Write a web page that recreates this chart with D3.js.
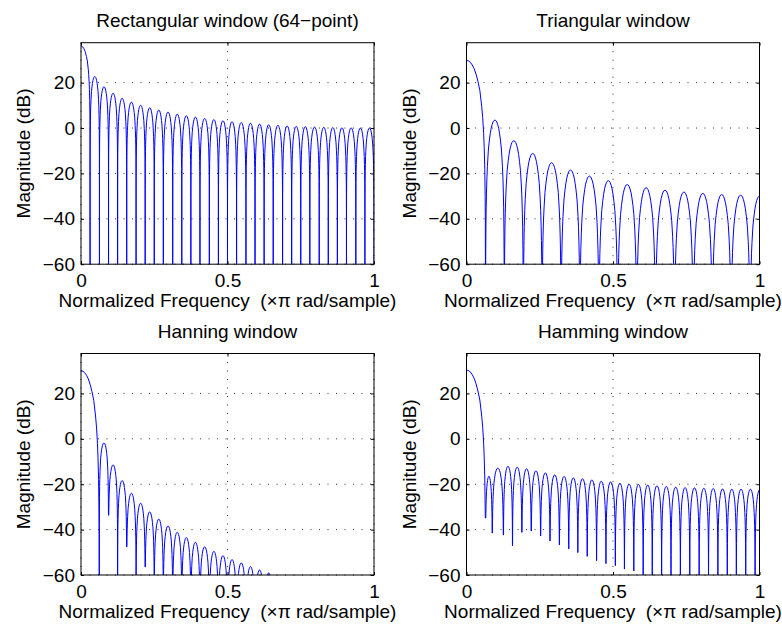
<!DOCTYPE html>
<html>
<head>
<meta charset="utf-8">
<script src="https://cdn.jsdelivr.net/npm/d3@7/dist/d3.min.js"></script>
<style>
  body { margin: 0; background: #fff; }
  svg text { font-family: 'Liberation Sans', Arial, Helvetica, sans-serif; font-size: 19px; fill: #000; }
</style>
</head>
<body>
<div class="canvas"></div>
<script>
const WIDTH = 782;
const HEIGHT = 624;

// axis ticks
const xTicks = [0, 0.5, 1];
const yTicks = [-60, -40, -20, 0, 20];
const yTop = 37.6;

// lobe data: null frequencies (x pi rad/sample),
// peak of each lobe (dB, first = main lobe), depth at each null (null = below -60)
const rectNulls = [0.031, 0.063, 0.094, 0.125, 0.156, 0.188, 0.219, 0.25, 0.281, 0.313, 0.344, 0.375, 0.406, 0.438, 0.469, 0.5,
  0.531, 0.563, 0.594, 0.625, 0.656, 0.688, 0.719, 0.75, 0.781, 0.813, 0.844, 0.875, 0.906, 0.938, 0.969, 1.0];
const rectPeaks = [36.1, 22.7, 18.2, 15.3, 13.1, 11.4, 10.0, 8.9, 7.9, 7.0, 6.1, 5.4, 4.8, 4.2, 3.7, 3.2,
  2.8, 2.4, 2.1, 1.7, 1.4, 1.2, 0.9, 0.7, 0.6, 0.4, 0.3, 0.2, 0.1, 0.05, 0.0, 0.0];
const rectDepths = [];

const triNulls = [0.065, 0.129, 0.194, 0.258, 0.323, 0.387, 0.452, 0.516, 0.581, 0.645, 0.71, 0.774, 0.839, 0.903, 0.968, 1.032];
const triPeaks = [29.8, 3.5, -5.6, -11.2, -15.3, -18.5, -21.2, -23.2, -24.9, -26.3, -27.4, -28.2, -28.8, -29.3, -29.6, -30.0];
const triDepths = [];

const hannNulls = [0.0625, 0.094, 0.125, 0.156, 0.188, 0.219, 0.25, 0.281, 0.313, 0.344, 0.375, 0.406, 0.438, 0.469, 0.5,
  0.531, 0.563, 0.594, 0.625, 0.656, 0.688, 0.719];
const hannPeaks = [30.0, -1.8, -11.5, -18.4, -24.0, -28.4, -32.2, -35.4, -38.4, -41.2, -43.5, -45.6, -47.6, -49.6, -51.5,
  -53.2, -54.7, -56.3, -57.8, -59.1, -60.4, -61.6];
const hannDepths = [null, -33.7, null, -47.6, null, -56.5];

const hammNulls = [0.065, 0.088, 0.126, 0.157, 0.189, 0.221, 0.253, 0.285, 0.317, 0.349, 0.38, 0.412, 0.444, 0.476, 0.508,
  0.539, 0.571, 0.603, 0.634, 0.666, 0.698, 0.73, 0.762, 0.794, 0.826, 0.858, 0.89, 0.921, 0.953, 0.985, 1.017];
const hammPeaks = [30.3, -16.5, -12.9, -12.1, -12.5, -13.2, -14.1, -15.0, -15.9, -16.6, -17.2, -17.6, -18.1, -18.7, -19.0,
  -19.6, -20.0, -20.1, -20.4, -20.7, -21.0, -21.3, -21.5, -21.6, -21.8, -21.9, -22.1, -22.2, -22.2, -22.2, -22.4];
const hammDepths = [-34.9, -41.5, -42.4, -47.1, -41.2, -40.6, -42.8, -45.0, -46.8, -48.5, -50.1, -51.8, -53.7, -55.0, -55.9,
  -57.4, -58.2];

// shape of one lobe from its null (t = 0) to its peak (t = 0.5), dB below the peak
const lobeT = [0, 0.005, 0.01, 0.02, 0.035, 0.05, 0.075, 0.1, 0.15, 0.2, 0.25, 0.3, 0.35, 0.4, 0.45, 0.5];
const lobeDrop = [-200, -36, -30, -24, -19.2, -16.1, -12.6, -10.2, -6.6, -4.6, -3.0, -1.8, -1.0, -0.4, -0.1, 0];

const xLabel = 'Normalized Frequency  (\u00d7\u03c0 rad/sample)';
const yLabel = 'Magnitude (dB)';

// layout
const plotW = 293;
const plotH = 221.5;
const panels = [
  { title: 'Rectangular window (64\u2212point)', nulls: rectNulls, peaks: rectPeaks, depths: rectDepths, mainSteep: 1, sideSteep: 1, left: 81, top: 42.7 },
  { title: 'Triangular window', nulls: triNulls, peaks: triPeaks, depths: triDepths, mainSteep: 2, sideSteep: 2, left: 466.5, top: 42.7 },
  { title: 'Hanning window', nulls: hannNulls, peaks: hannPeaks, depths: hannDepths, mainSteep: 2, sideSteep: 1, left: 81, top: 353.5 },
  { title: 'Hamming window', nulls: hammNulls, peaks: hammPeaks, depths: hammDepths, mainSteep: 2, sideSteep: 1, left: 466.5, top: 353.5 }
];

const blue = '#0000ff';

const svg = d3.select('.canvas')
  .append('svg')
    .attr('width', WIDTH)
    .attr('height', HEIGHT);

// scales (shared by all four panels)
const x = d3.scaleLinear().domain([0, 1]).range([0, plotW]);
const y = d3.scaleLinear().domain([-60, yTop]).range([plotH, 0]);

const floorDb = d => (d == null ? -100 : d);

// points of a single lobe between nulls a and b
const lobe = (a, b, peak, da, db, steep) => {
  const pts = [];
  lobeT.forEach((t, i) => pts.push([a + t * (b - a), Math.max(peak + steep * lobeDrop[i], da)]));
  for (let i = lobeT.length - 2; i >= 0; i--) {
    pts.push([b - lobeT[i] * (b - a), Math.max(peak + steep * lobeDrop[i], db)]);
  }
  return pts;
};

const curvePoints = p => {
  let pts = lobe(-p.nulls[0], p.nulls[0], p.peaks[0], floorDb(p.depths[0]), floorDb(p.depths[0]), p.mainSteep);
  for (let i = 1; i < p.nulls.length; i++) {
    const seg = lobe(p.nulls[i - 1], p.nulls[i], p.peaks[i], floorDb(p.depths[i - 1]), floorDb(p.depths[i]), p.sideSteep);
    pts = pts.concat(seg.slice(1));
  }
  return pts;
};

const line = d3.line()
  .x(d => x(d[0]))
  .y(d => y(d[1]));

panels.forEach((p, idx) => {
  const graph = svg.append('g')
    .attr('transform', `translate(${p.left}, ${p.top})`);

  svg.append('clipPath')
    .attr('id', `clip${idx}`)
    .append('rect')
      .attr('width', plotW)
      .attr('height', plotH);

  // dotted grid
  const grid = graph.append('g')
    .attr('stroke', '#333')
    .attr('stroke-width', 1)
    .attr('stroke-dasharray', '1,7.5');

  grid.selectAll('.gx')
    .data(xTicks)
    .enter().append('line')
      .attr('x1', d => x(d))
      .attr('x2', d => x(d))
      .attr('y1', 0)
      .attr('y2', plotH);

  grid.selectAll('.gy')
    .data(yTicks)
    .enter().append('line')
      .attr('x1', 0)
      .attr('x2', plotW)
      .attr('y1', d => y(d))
      .attr('y2', d => y(d));

  // response curve
  graph.append('path')
    .datum(curvePoints(p))
      .attr('clip-path', `url(#clip${idx})`)
      .attr('fill', 'none')
      .attr('stroke', blue)
      .attr('stroke-width', 1)
      .attr('d', line);

  // axes with inward ticks
  const xAxis = d3.axisBottom(x)
    .tickValues(xTicks)
    .tickFormat(d3.format(''))
    .tickSizeInner(-3)
    .tickSizeOuter(0)
    .tickPadding(9.5);

  const yAxis = d3.axisLeft(y)
    .tickValues(yTicks)
    .tickSizeInner(-3)
    .tickSizeOuter(0)
    .tickPadding(6);

  graph.append('g')
    .attr('transform', `translate(0, ${plotH})`)
    .call(xAxis)
    .call(g => g.select('.domain').remove());

  graph.append('g')
    .call(yAxis)
    .call(g => g.select('.domain').remove());

  graph.append('g')
    .call(d3.axisTop(x).tickValues(xTicks).tickFormat('').tickSizeInner(-3).tickSizeOuter(0))
    .call(g => g.select('.domain').remove());

  graph.append('g')
    .attr('transform', `translate(${plotW}, 0)`)
    .call(d3.axisRight(y).tickValues(yTicks).tickFormat('').tickSizeInner(-3).tickSizeOuter(0))
    .call(g => g.select('.domain').remove());

  // box
  graph.append('rect')
    .attr('width', plotW)
    .attr('height', plotH)
    .attr('fill', 'none')
    .attr('stroke', '#000')
    .attr('stroke-width', 1);

  // labels
  graph.append('text')
    .attr('x', plotW / 2)
    .attr('y', -15.5)
    .attr('text-anchor', 'middle')
    .text(p.title);

  graph.append('text')
    .attr('x', plotW / 2)
    .attr('y', plotH + 43)
    .attr('text-anchor', 'middle')
    .style('white-space', 'pre')
    .text(xLabel);

  graph.append('text')
    .attr('transform', `translate(-51, ${plotH / 2}) rotate(-90)`)
    .attr('text-anchor', 'middle')
    .text(yLabel);
});
</script>
</body>
</html>
